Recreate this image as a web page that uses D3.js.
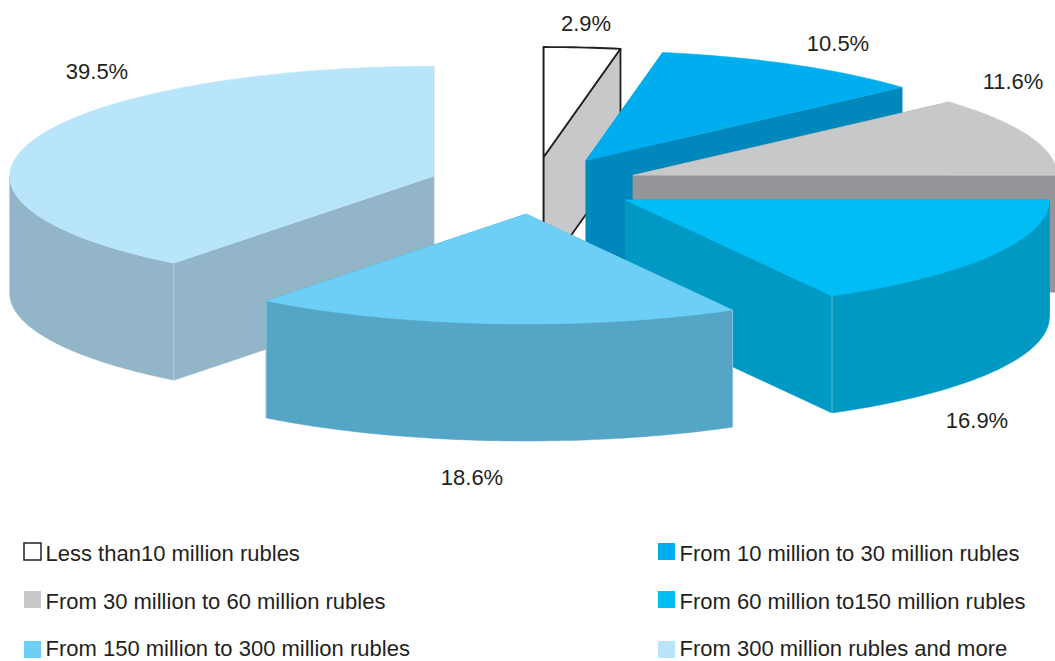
<!DOCTYPE html>
<html>
<head>
<meta charset="utf-8">
<script src="https://cdn.jsdelivr.net/npm/d3@7"></script>
<style>
  html, body { margin: 0; padding: 0; background: #fff; }
  svg { display: block; }
  text { font-family: "Liberation Sans", Arial, sans-serif; fill: #231f20; }
</style>
</head>
<body>
<div id="chart"></div>
<script>
// data, clockwise from 12 o'clock
const categories = [
    "Less than10 million rubles",
    "From 10 million to 30 million rubles",
    "From 30 million to 60 million rubles",
    "From 60 million to150 million rubles",
    "From 150 million to 300 million rubles",
    "From 300 million rubles and more"
];
const shares = [2.9, 10.5, 11.6, 16.9, 18.6, 39.5];

// colours, same order as categories
const topColors = ["#ffffff", "#00aeef", "#c7c8ca", "#00bdf6", "#6dcff6", "#b9e5fb"];
const wallColors = ["#c7c8ca", "#0088bd", "#939598", "#0099c4", "#55a5c6", "#93b5c8"];

// pie geometry
const width = 1055, height = 661;
const cx = 534, cy = 185.5;
const rx = 424, ry = 110;
const depth = 117;
const explodeX = 106, explodeY = 28.6;
const outline = "#231f20";

// hand placed percent labels (centre of text)
const labelPos = [[586, 23], [838, 43], [1013, 81], [977, 420], [472, 477], [97, 71]];

const svg = d3.select("#chart").append("svg")
    .attr("width", width)
    .attr("height", height);

const slices = d3.pie().sort(null).value(d => d)(shares).map((d, i) => {
    const mid = (d.startAngle + d.endAngle) / 2;
    return {
        i: i,
        a0: d.startAngle,
        a1: d.endAngle,
        mid: mid,
        ox: cx + explodeX * Math.sin(mid),
        oy: cy - explodeY * Math.cos(mid)
    };
});

const line = d3.line();

// point on the rim of a slice, dy pushes it down to the bottom of the disc
function rim(s, a, dy) {
    return [s.ox + rx * Math.sin(a), s.oy - ry * Math.cos(a) + (dy || 0)];
}

function arcPoints(s, a0, a1, dy) {
    const n = Math.max(2, Math.ceil((a1 - a0) / (Math.PI / 180)));
    return d3.range(n + 1).map(k => rim(s, a0 + (a1 - a0) * k / n, dy));
}

function cutFace(s, a) {
    return [[s.ox, s.oy], rim(s, a), rim(s, a, depth), [s.ox, s.oy + depth]];
}

// back slices first, front slices paint over them
const ordered = slices.slice().sort((p, q) => d3.descending(Math.cos(p.mid), Math.cos(q.mid)));

const g = svg.selectAll(".slice")
    .data(ordered)
    .enter()
    .append("g")
    .attr("class", "slice");

g.each(function(s) {
    const el = d3.select(this);
    const stroke = s.i === 0 ? outline : wallColors[s.i];
    const sw = s.i === 0 ? 1.8 : 0.5;

    // the two cut faces
    [s.a0, s.a1].forEach(a => {
        el.append("path")
            .attr("d", line(cutFace(s, a)) + "Z")
            .attr("fill", wallColors[s.i])
            .attr("stroke", stroke)
            .attr("stroke-width", sw)
            .attr("stroke-linejoin", "round");
    });

    // outer wall, only the part facing the viewer
    const from = Math.max(s.a0, Math.PI / 2);
    const to = Math.min(s.a1, Math.PI * 1.5);
    if (to > from) {
        const pts = arcPoints(s, from, to, 0).concat(arcPoints(s, from, to, depth).reverse());
        el.append("path")
            .attr("d", line(pts) + "Z")
            .attr("fill", wallColors[s.i])
            .attr("stroke", wallColors[s.i])
            .attr("stroke-width", 0.5);
    }

    // thin light seam where the cut face meets the outer wall
    [s.a0, s.a1].filter(a => a > Math.PI / 2 + 0.01 && a < Math.PI * 1.5).forEach(a => {
        el.append("path")
            .attr("d", line([rim(s, a), rim(s, a, depth)]))
            .attr("fill", "none")
            .attr("stroke", "#ffffff")
            .attr("stroke-opacity", 0.45)
            .attr("stroke-width", 0.8);
    });

    // top of the slice
    const top = [[s.ox, s.oy]].concat(arcPoints(s, s.a0, s.a1, 0));
    el.append("path")
        .attr("d", line(top) + "Z")
        .attr("fill", topColors[s.i])
        .attr("stroke", s.i === 0 ? outline : topColors[s.i])
        .attr("stroke-width", sw)
        .attr("stroke-linejoin", "round");
});

// percent labels
svg.selectAll(".pct")
    .data(shares)
    .enter()
    .append("text")
    .attr("class", "pct")
    .attr("x", (d, i) => labelPos[i][0])
    .attr("y", (d, i) => labelPos[i][1])
    .attr("dy", "0.35em")
    .attr("text-anchor", "middle")
    .attr("font-size", "22px")
    .text(d => d3.format(".1f")(d) + "%");

// legend, two columns filled row by row
const legendX = [24, 658];
const legendY = [551.5, 599.5, 649.5];
const legendBaseline = [560.5, 608.5, 656.2];
const legend = svg.selectAll(".legend")
    .data(categories)
    .enter()
    .append("g")
    .attr("class", "legend");

legend.append("rect")
    .attr("x", (d, i) => legendX[i % 2])
    .attr("y", (d, i) => legendY[Math.floor(i / 2)] - 8.5)
    .attr("width", 17)
    .attr("height", 17)
    .attr("fill", (d, i) => topColors[i])
    .attr("stroke", (d, i) => i === 0 ? outline : "none")
    .attr("stroke-width", 1.5);

legend.append("text")
    .attr("x", (d, i) => legendX[i % 2] + 21.5)
    .attr("y", (d, i) => legendBaseline[Math.floor(i / 2)])
    .attr("font-size", "22px")
    .text(d => d);
</script>
</body>
</html>
